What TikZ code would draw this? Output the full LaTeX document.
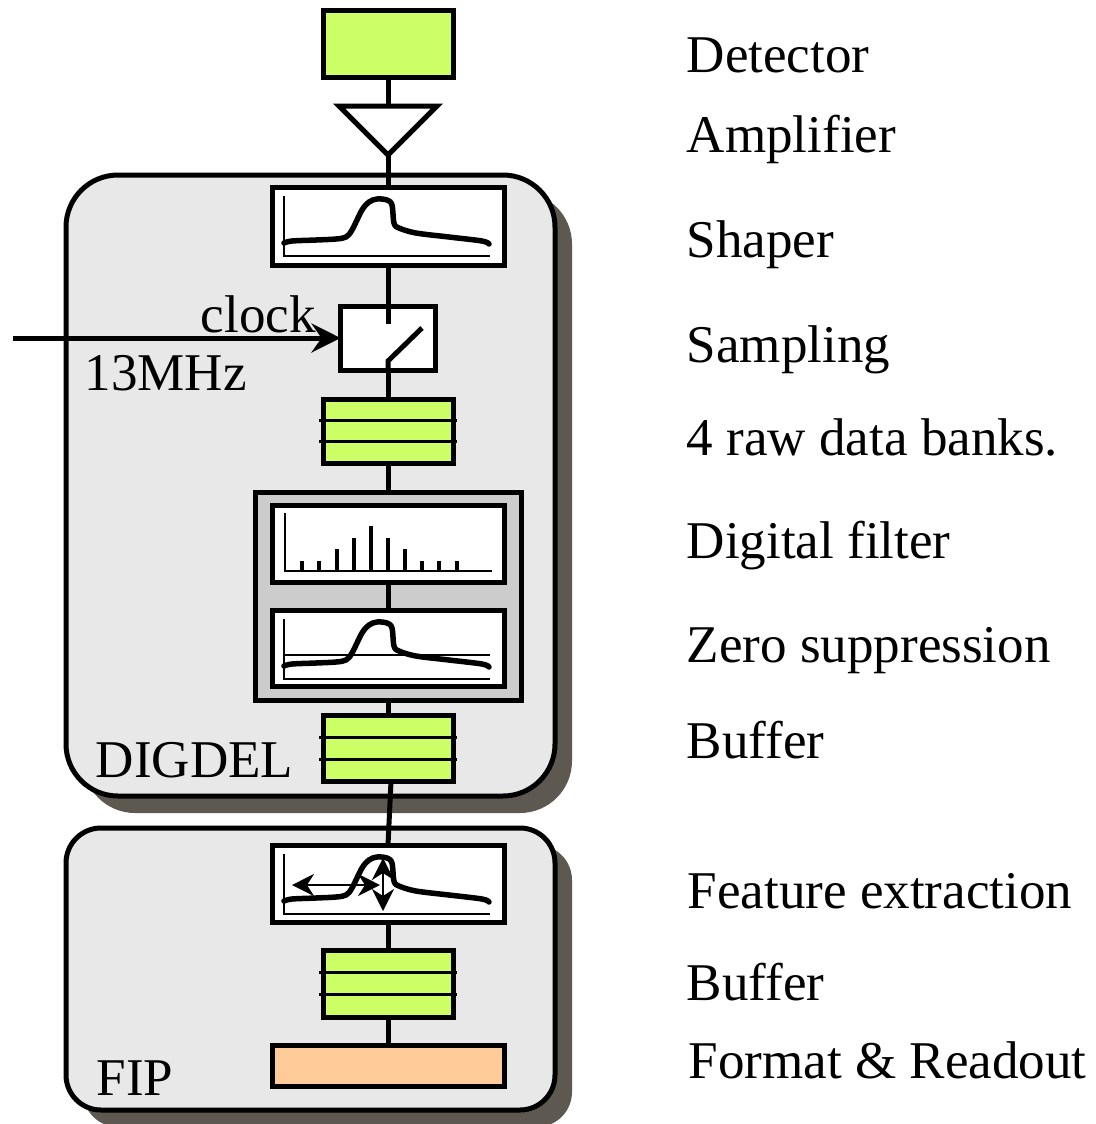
\documentclass[tikz,border=0pt]{standalone}
\usepackage{fontspec}
\setmainfont{Liberation Serif}
\usetikzlibrary{calc}
\usetikzlibrary{arrows.meta}
\usetikzlibrary{shadows}

\definecolor{bankgreen}{HTML}{CCFF66}
\definecolor{panelgray}{HTML}{E8E8E8}
\definecolor{groupgray}{HTML}{CCCCCC}
\definecolor{shadowbrown}{HTML}{5E5950}
\definecolor{readoutpeach}{HTML}{FFCC99}

% shaped pulse inside a plot box, #1 = north west corner of the box
\newcommand{\pulseshape}[1]{%
  \begin{scope}[shift={(#1)}]
    \draw[axisline] (12,9) -- (12,69) -- (218,69);
    \draw[trace] plot[smooth,tension=0.55] coordinates {(12,56) (20,54) (44,53) (64,52) (74,50) (80,43) (90,23) (97,15) (105,12) (115,13) (120,18) (122,36) (127,41) (144,46) (177,50) (210,54) (217,57)};
  \end{scope}}

\begin{document}
\begin{tikzpicture}[x=0.1mm,y=-0.1mm,
    box/.style={draw,line width=0.5mm,outer sep=0pt,inner sep=0pt},
    bank/.style={box,fill=bankgreen,minimum width=13mm,minimum height=6.6mm},
    plotbox/.style={box,fill=white,minimum width=23.2mm,minimum height=7.7mm},
    panel/.style={box,fill=panelgray,drop shadow={shadow xshift=1.7mm,shadow yshift=-1.7mm,fill=shadowbrown,opacity=1}},
    wire/.style={line width=0.5mm},
    axisline/.style={line width=0.2mm},
    trace/.style={line width=0.55mm,line cap=round,line join=round},
    spike/.style={line width=0.45mm},
    gauge/.style={line width=0.2mm,{Stealth[length=2.2mm,width=2.2mm,inset=0.7mm]}-{Stealth[length=2.2mm,width=2.2mm,inset=0.7mm]}},
    txt/.style={anchor=base west,inner sep=0pt,font=\fontsize{15.1}{17}\selectfont}]
    \useasboundingbox (0,0) rectangle (1095,1124);

    % the two boards
    \node[panel,minimum width=48.9mm,minimum height=62.1mm,rounded corners=5.2mm] (digdel) at (310.5,485.5) {};
    \node[panel,minimum width=48.9mm,minimum height=28.2mm,rounded corners=3.5mm] (fip) at (310.5,969) {};

    % detector and amplifier
    \node[bank,minimum height=6.7mm] (det) at (388,43.5) {};
    \coordinate (amptop) at (388,106);
    \coordinate (ampout) at (388,155);
    \draw[wire,fill=white] (339,106) -- (437,106) -- (ampout) -- cycle;

    % DIGDEL
    \node[plotbox,minimum height=7.8mm] (shaper) at (388,226) {};
    \node[box,fill=white,minimum width=9.5mm,minimum height=6.4mm] (sampler) at (388,338) {};
    \node[bank,minimum height=6.4mm] (banks) at (388,431) {};
    \node[box,fill=groupgray,minimum width=26.6mm,minimum height=20.8mm] (dfgroup) at (388,596) {};
    \node[plotbox] (filt) at (388,543.5) {};
    \node[plotbox,minimum height=7.6mm] (zero) at (388,648) {};
    \node[bank] (buf) at (388,748) {};

    % FIP
    \node[plotbox] (feat) at (388,883.5) {};
    \node[bank,minimum height=6.7mm] (bufb) at (388,983.5) {};
    \node[box,fill=readoutpeach,minimum width=23.2mm,minimum height=4.1mm] (fmt) at (388,1065.5) {};

    % connections
    \draw[wire] (det.south) -- (amptop);
    \draw[wire] (ampout) -- (shaper.north);
    \draw[wire] (shaper.south) -- (sampler.north);
    \draw[wire] (sampler.south) -- (banks.north);
    \draw[wire] (banks.south) -- (dfgroup.north);
    \draw[wire] (filt.south) -- (zero.north);
    \draw[wire] (dfgroup.south) -- (buf.north);
    \draw[wire] ([xshift=0.3mm]buf.south) -- (feat.north);
    \draw[wire] (feat.south) -- (bufb.north);
    \draw[wire] (bufb.south) -- (fmt.north);

    % switch
    \draw[wire,fill=white] (sampler.north west) rectangle (sampler.south east);
    \draw[wire] (sampler.north) -- ++(0,18);
    \draw[wire] (sampler.south) -- ++(0,-9) -- ++(34,-33);

    % clock input
    \coordinate (clk) at (13,338);
    \draw[wire,-{Stealth[length=2.9mm,width=2.9mm,inset=1mm]}] (clk) -- (sampler.west);

    % bank dividers
    \foreach \b in {banks,buf,bufb}
        \foreach \f in {1,2}
            \draw[line width=0.3mm] ($(\b.north west)!\f/3!(\b.south west)$) ++(-0.4mm,0) -- ++(13.8mm,0);

    % pulses
    \pulseshape{shaper.north west}
    \pulseshape{zero.north west}
    \pulseshape{feat.north west}
    \draw[axisline] ([shift={(13,45)}]zero.north west) -- ++(205,0);

    % filter spikes
    \begin{scope}[shift={(filt.north west)}]
        \draw[axisline] (13,8) -- (13,66) -- (220,66);
        \foreach \sx/\sy in {30/56,47/56,65/44,82/33,99/21,116/33,133/44,150/56,167/56,185/56}
            \draw[spike] (\sx,\sy) -- (\sx,66);
    \end{scope}

    % feature arrows
    \begin{scope}[shift={(feat.north west)}]
        \draw[gauge] (20,40) -- (108,40);
        \draw[gauge] (111,13) -- (111,66);
    \end{scope}

    % left labels
    \node[txt] (clocklbl) at (200,332) {clock};
    \node[txt] (freqlbl) at (84,390) {13MHz};
    \node[txt] (digdellbl) at (95,777) {DIGDEL};
    \node[txt] (fiplbl) at (96,1095) {FIP};

    % right column
    \node[txt] (detlbl) at (686,72) {Detector};
    \node[txt] (amplbl) at (686,152) {Amplifier};
    \node[txt] (shaperlbl) at (686,257) {Shaper};
    \node[txt] (samplbl) at (686,362) {Sampling};
    \node[txt] (bankslbl) at (686,455) {4 raw data banks.};
    \node[txt] (filtlbl) at (686,558) {Digital filter};
    \node[txt] (zerolbl) at (686,662) {Zero suppression};
    \node[txt] (buflbl) at (686,758) {Buffer};
    \node[txt] (featlbl) at (687,908) {Feature extraction};
    \node[txt] (bufblbl) at (686,1000) {Buffer};
    \node[txt] (fmtlbl) at (688,1078) {Format \& Readout};
\end{tikzpicture}
\end{document}
